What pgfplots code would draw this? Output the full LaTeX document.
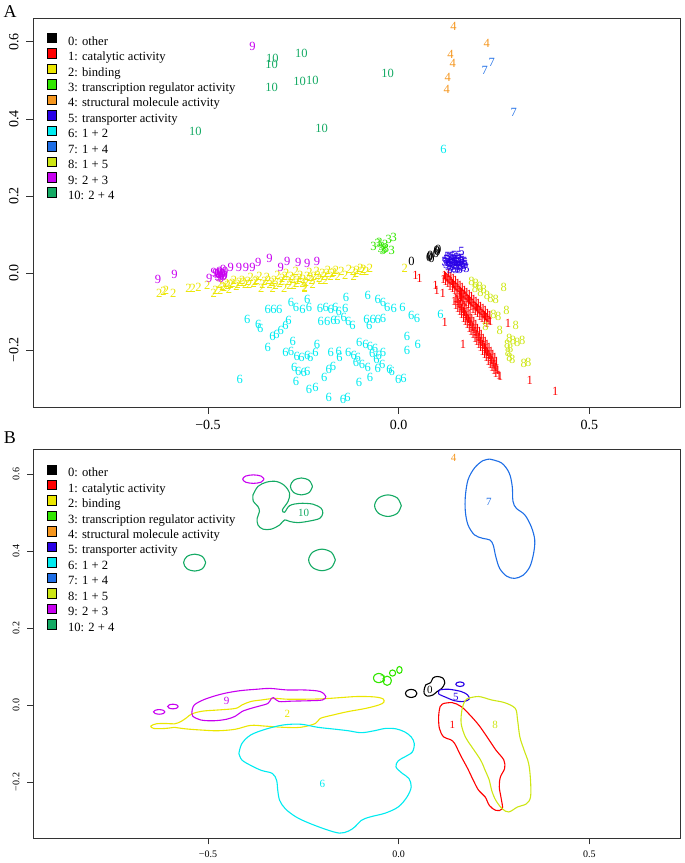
\documentclass[border=0pt]{standalone}
\usepackage{fontspec}
\setmainfont{Liberation Serif}
\usepackage{pgfplots}
\pgfplotsset{compat=1.18}
\definecolor{c0}{RGB}{0,0,0}
\definecolor{c1}{RGB}{255,0,0}
\definecolor{c2}{RGB}{235,230,0}
\definecolor{c3}{RGB}{50,230,0}
\definecolor{c4}{RGB}{245,150,30}
\definecolor{c5}{RGB}{40,0,230}
\definecolor{c6}{RGB}{0,235,240}
\definecolor{c7}{RGB}{30,110,230}
\definecolor{c8}{RGB}{205,230,20}
\definecolor{c9}{RGB}{200,0,240}
\definecolor{c10}{RGB}{20,170,100}
\pgfplotsset{
  tm/.style 2 args={only marks, mark=text, text mark={#1}, text mark as node=true, color=#2,
     text mark style={font=\fontsize{12.5}{12.5}\selectfont, inner sep=0pt, text=#2}, forget plot},
  tl/.style 2 args={only marks, mark=text, text mark={#1}, text mark as node=true, color=#2,
     text mark style={font=\fontsize{11}{11}\selectfont, inner sep=0pt, text=#2}, forget plot},
  cl/.style={smooth, tension=0.55, line width=1.1pt, mark=none, color=#1, forget plot},
  common/.style={scale only axis, width=647pt, height=389pt, xmin=-0.959, xmax=0.738,
     axis line style={line width=0.8pt, black!80}, tick style={line width=0.8pt, black!80},
     tick align=outside, tick pos=left, major tick length=7pt,
     xtick={-0.5,0,0.5}, xticklabels={−0.5,0.0,0.5},
     ytick={-0.2,0,0.2,0.4,0.6}, yticklabels={−0.2,0.0,0.2,0.4,0.6},
     yticklabel style={rotate=90, anchor=south},
     xticklabel shift=3pt, yticklabel shift=4pt,
     legend cell align=left,
     legend style={at={(0,1)}, anchor=north west, xshift=14pt, yshift=-15pt, draw=none, fill=none,
        inner sep=0pt, outer sep=0pt, font=\fontsize{12.6}{14}\selectfont, row sep=0.3pt,
        nodes={inner sep=0pt, text height=8.7pt, text depth=3pt},
        /tikz/every odd column/.style={column sep=11pt}}},
}
\newcommand\legsq[1]{\addlegendimage{legend image code/.code={\draw[fill=#1,draw=black,line width=0.6pt] (0pt,-0.5pt) rectangle (9.5pt,9pt);}}}
\newcommand\leglist{%
  \legsq{c0}\addlegendentry{0: other}
  \legsq{c1}\addlegendentry{1: catalytic activity}
  \legsq{c2}\addlegendentry{2: binding}
  \legsq{c3}\addlegendentry{3: transcription regulator activity}
  \legsq{c4}\addlegendentry{4: structural molecule activity}
  \legsq{c5}\addlegendentry{5: transporter activity}
  \legsq{c6}\addlegendentry{6: 1 + 2}
  \legsq{c7}\addlegendentry{7: 1 + 4}
  \legsq{c8}\addlegendentry{8: 1 + 5}
  \legsq{c9}\addlegendentry{9: 2 + 3}
  \legsq{c10}\addlegendentry{10: 2 + 4}}
\begin{document}
\begin{tikzpicture}
\path[use as bounding box] (0pt,0pt) rectangle (685pt,863pt);
\node at (10pt,851pt) {\fontsize{18}{18}\selectfont A};
\node at (10pt,425pt) {\fontsize{18}{18}\selectfont B};
% ---------------- Panel A ----------------
\begin{axis}[common, at={(33pt,456pt)}, anchor=south west, ymin=-0.348, ymax=0.662,
  ticklabel style={font=\fontsize{14}{14}\selectfont}]
\leglist
\addplot[tm={0}{c0}] coordinates {(0.034,0.031)(0.080,0.040)(0.083,0.045)(0.086,0.038)(0.100,0.058)(0.104,0.062)(0.102,0.055)(0.098,0.052)(0.082,0.042)};
\addplot[tm={1}{c1}] coordinates {
(0.120,-0.005)(0.126,-0.011)(0.132,-0.017)(0.138,-0.023)(0.144,-0.029)(0.150,-0.035)(0.156,-0.041)(0.162,-0.047)(0.168,-0.053)(0.174,-0.059)(0.180,-0.065)(0.186,-0.071)(0.192,-0.077)(0.198,-0.083)(0.204,-0.089)(0.210,-0.095)(0.216,-0.101)(0.222,-0.107)(0.228,-0.113)(0.234,-0.119)(0.240,-0.125)
(0.123,-0.008)(0.129,-0.014)(0.135,-0.020)(0.141,-0.026)(0.147,-0.032)(0.153,-0.038)(0.159,-0.044)(0.165,-0.050)(0.171,-0.056)(0.177,-0.062)(0.183,-0.068)(0.189,-0.074)(0.195,-0.080)(0.201,-0.086)(0.207,-0.092)(0.213,-0.098)(0.219,-0.104)(0.225,-0.110)(0.231,-0.116)(0.237,-0.122)
(0.131,-0.002)(0.137,-0.008)(0.143,-0.014)(0.149,-0.020)(0.155,-0.026)(0.161,-0.032)(0.167,-0.038)(0.173,-0.044)(0.179,-0.050)(0.185,-0.056)(0.191,-0.062)(0.197,-0.068)(0.203,-0.074)(0.209,-0.080)(0.215,-0.086)(0.221,-0.092)(0.227,-0.098)(0.233,-0.104)(0.239,-0.110)
(0.117,-0.016)(0.123,-0.022)(0.129,-0.028)(0.135,-0.034)(0.141,-0.040)(0.147,-0.046)(0.153,-0.052)(0.159,-0.058)(0.165,-0.064)(0.171,-0.070)(0.177,-0.076)(0.183,-0.082)(0.189,-0.088)(0.195,-0.094)(0.201,-0.100)(0.207,-0.106)(0.213,-0.112)(0.219,-0.118)(0.225,-0.124)(0.231,-0.130)
(0.150,-0.065)(0.155,-0.074)(0.160,-0.082)(0.165,-0.091)(0.170,-0.099)(0.175,-0.108)(0.180,-0.117)(0.185,-0.125)(0.190,-0.134)(0.195,-0.142)(0.200,-0.151)(0.205,-0.160)(0.210,-0.168)(0.215,-0.177)(0.220,-0.185)(0.225,-0.194)(0.230,-0.203)(0.235,-0.211)(0.240,-0.220)(0.245,-0.228)(0.250,-0.237)(0.255,-0.246)(0.260,-0.254)
(0.153,-0.069)(0.158,-0.078)(0.163,-0.086)(0.168,-0.095)(0.173,-0.103)(0.178,-0.112)(0.183,-0.121)(0.188,-0.129)(0.193,-0.138)(0.198,-0.146)(0.203,-0.155)(0.208,-0.164)(0.213,-0.172)(0.218,-0.181)(0.223,-0.189)(0.228,-0.198)(0.233,-0.207)(0.238,-0.215)(0.243,-0.224)(0.248,-0.232)(0.253,-0.241)(0.258,-0.250)
(0.162,-0.065)(0.167,-0.074)(0.172,-0.083)(0.177,-0.091)(0.182,-0.100)(0.187,-0.108)(0.192,-0.117)(0.197,-0.126)(0.202,-0.134)(0.207,-0.143)(0.212,-0.151)(0.217,-0.160)(0.222,-0.169)(0.227,-0.177)(0.232,-0.186)(0.237,-0.194)(0.242,-0.203)(0.247,-0.212)(0.252,-0.220)(0.257,-0.229)
(0.145,-0.074)(0.150,-0.083)(0.155,-0.091)(0.160,-0.100)(0.165,-0.108)(0.170,-0.117)(0.175,-0.126)(0.180,-0.134)(0.185,-0.143)(0.190,-0.151)(0.195,-0.160)(0.200,-0.169)(0.205,-0.177)(0.210,-0.186)(0.215,-0.194)(0.220,-0.203)(0.225,-0.212)(0.230,-0.220)(0.235,-0.229)(0.240,-0.237)(0.245,-0.246)(0.250,-0.254)
(0.266,-0.268)(0.255,-0.262)
(0.044,-0.005)(0.055,-0.014)(0.097,-0.031)(0.116,-0.053)(0.121,-0.127)(0.169,-0.185)(0.287,-0.131)(0.263,-0.266)(0.344,-0.279)(0.411,-0.307)(0.100,-0.045)};
\addplot[tm={2}{c2}] coordinates {
(-0.628,-0.053)(-0.617,-0.048)(-0.610,-0.044)(-0.591,-0.053)(-0.551,-0.039)(-0.540,-0.040)(-0.525,-0.037)(-0.502,-0.033)(-0.485,-0.053)(-0.480,-0.045)(-0.468,-0.046)(-0.470,-0.030)(-0.458,-0.038)(-0.452,-0.026)(-0.445,-0.043)(-0.440,-0.030)(-0.432,-0.020)(-0.425,-0.036)(-0.418,-0.025)(-0.410,-0.018)(-0.402,-0.030)(-0.395,-0.022)(-0.388,-0.012)(-0.380,-0.028)(-0.372,-0.018)(-0.365,-0.008)(-0.360,-0.040)(-0.352,-0.022)(-0.345,-0.012)(-0.338,-0.030)(-0.330,-0.040)(-0.326,-0.018)(-0.318,-0.005)(-0.312,-0.028)(-0.305,-0.015)(-0.300,-0.040)(-0.295,0.000)(-0.288,-0.022)(-0.282,-0.010)(-0.275,-0.032)(-0.270,0.005)(-0.265,-0.018)(-0.258,-0.005)(-0.252,-0.028)(-0.246,-0.040)(-0.240,-0.010)(-0.234,0.002)(-0.228,-0.020)(-0.222,-0.008)(-0.215,0.005)(-0.208,-0.015)(-0.200,-0.002)(-0.192,-0.020)(-0.185,0.008)(-0.178,-0.008)(-0.170,0.002)(-0.160,-0.010)(-0.150,0.005)(-0.140,-0.005)(-0.130,0.010)(-0.118,-0.008)(-0.109,0.006)(-0.100,0.012)(-0.092,0.010)(-0.085,0.003)(-0.075,0.013)(0.016,0.011)(-0.246,-0.037)
(-0.462,-0.035)(-0.448,-0.031)(-0.436,-0.027)(-0.422,-0.030)(-0.406,-0.024)(-0.392,-0.030)(-0.376,-0.022)(-0.357,-0.030)(-0.342,-0.020)(-0.333,-0.025)(-0.322,-0.033)(-0.308,-0.022)(-0.298,-0.010)(-0.286,-0.032)(-0.278,-0.017)(-0.268,-0.026)(-0.260,-0.014)(-0.250,-0.016)(-0.243,-0.024)(-0.231,-0.012)(-0.225,-0.030)(-0.212,-0.006)(-0.204,-0.020)(-0.196,-0.010)(-0.188,-0.002)(-0.174,0.000)(-0.164,0.006)(-0.120,0.004)(-0.112,0.000)(-0.096,0.004)};
\addplot[tm={3}{c3}] coordinates {(-0.066,0.069)(-0.055,0.076)(-0.047,0.065)(-0.035,0.074)(-0.026,0.086)(-0.018,0.058)(-0.013,0.093)(-0.041,0.058)(-0.033,0.065)(-0.050,0.080)(-0.044,0.070)(-0.038,0.062)};
\addplot[tm={4}{c4}] coordinates {(0.144,0.641)(0.231,0.596)(0.136,0.568)(0.142,0.545)(0.129,0.509)(0.126,0.477)};
\addplot[tm={5}{c5}] coordinates {(0.120,0.030)(0.125,0.022)(0.125,0.036)(0.130,0.028)(0.130,0.016)(0.132,0.040)(0.135,0.024)(0.138,0.033)(0.140,0.018)(0.140,0.042)(0.143,0.028)(0.145,0.012)(0.146,0.036)(0.148,0.022)(0.150,0.030)(0.152,0.040)(0.153,0.016)(0.155,0.026)(0.157,0.034)(0.160,0.020)(0.160,0.010)(0.162,0.030)(0.165,0.038)(0.167,0.024)(0.170,0.015)(0.172,0.030)(0.175,0.022)(0.178,0.012)(0.150,0.008)(0.135,0.010)(0.128,0.042)(0.165,0.055)(0.158,0.045)(0.145,0.046)
(0.122,0.026)(0.128,0.034)(0.133,0.020)(0.137,0.038)(0.142,0.024)(0.147,0.030)(0.151,0.020)(0.154,0.036)(0.158,0.026)(0.163,0.016)(0.166,0.032)(0.169,0.020)(0.174,0.026)(0.142,0.034)(0.156,0.012)(0.137,0.014)};
\addplot[tm={6}{c6}] coordinates {
(-0.417,-0.277)(-0.397,-0.120)(-0.368,-0.133)(-0.363,-0.144)(-0.343,-0.194)(-0.343,-0.094)(-0.328,-0.094)(-0.313,-0.094)(-0.331,-0.164)(-0.320,-0.159)(-0.309,-0.149)(-0.297,-0.135)(-0.289,-0.124)(-0.282,-0.077)(-0.269,-0.090)(-0.252,-0.094)(-0.240,-0.068)(-0.235,-0.090)(-0.297,-0.207)(-0.282,-0.203)(-0.278,-0.178)(-0.267,-0.216)(-0.255,-0.220)(-0.240,-0.213)(-0.232,-0.220)(-0.218,-0.207)(-0.214,-0.185)(-0.274,-0.246)(-0.263,-0.255)(-0.249,-0.259)(-0.240,-0.255)(-0.269,-0.281)(-0.235,-0.303)(-0.218,-0.298)(-0.195,-0.272)(-0.183,-0.251)(-0.172,-0.242)(-0.155,-0.220)(-0.206,-0.091)(-0.191,-0.090)(-0.178,-0.094)(-0.166,-0.090)(-0.157,-0.100)(-0.140,-0.091)(-0.138,-0.063)(-0.204,-0.126)(-0.187,-0.126)(-0.171,-0.124)(-0.161,-0.122)(-0.144,-0.116)(-0.132,-0.126)(-0.132,-0.207)(-0.118,-0.213)(-0.107,-0.220)(-0.112,-0.231)(-0.096,-0.238)(-0.081,-0.246)(-0.075,-0.272)(-0.104,-0.283)(-0.121,-0.137)(-0.103,-0.181)(-0.178,-0.207)(-0.157,-0.203)(-0.183,-0.324)(-0.146,-0.329)(-0.134,-0.324)(-0.081,-0.059)(-0.055,-0.068)(-0.041,-0.077)(-0.030,-0.090)(-0.013,-0.091)(0.010,-0.090)(0.033,-0.111)(0.048,-0.117)(-0.084,-0.120)(-0.068,-0.120)(-0.055,-0.120)(-0.041,-0.117)(-0.077,-0.135)(-0.087,-0.185)(-0.075,-0.192)(-0.062,-0.196)(-0.069,-0.210)(-0.052,-0.213)(-0.041,-0.207)(-0.058,-0.224)(-0.043,-0.237)(-0.055,-0.248)(-0.024,-0.251)(-0.018,-0.255)(-0.001,-0.277)(0.013,-0.274)(0.022,-0.166)(0.022,-0.201)(0.050,-0.185)(0.110,-0.107)(0.118,0.320)};
\addplot[tm={7}{c7}] coordinates {(0.226,0.526)(0.244,0.546)(0.302,0.417)};
\addplot[tm={8}{c8}] coordinates {(0.191,-0.023)(0.202,-0.027)(0.213,-0.034)(0.223,-0.043)(0.232,-0.057)(0.241,-0.066)(0.255,-0.068)(0.276,-0.037)(0.283,-0.096)(0.307,-0.135)(0.249,-0.107)(0.228,-0.140)(0.290,-0.170)(0.300,-0.174)(0.311,-0.179)(0.324,-0.174)(0.287,-0.205)(0.291,-0.218)(0.298,-0.225)(0.328,-0.235)(0.340,-0.231)(0.265,-0.149)(0.261,-0.113)(0.200,-0.040)(0.215,-0.050)(0.285,-0.185)(0.293,-0.195)};
\addplot[tm={9}{c9}] coordinates {(-0.631,-0.018)(-0.588,-0.004)(-0.497,-0.013)(-0.485,0.002)(-0.468,-0.004)(-0.475,-0.008)(-0.462,0.000)(-0.470,0.004)(-0.458,-0.010)(-0.480,0.000)(-0.465,-0.015)(-0.455,0.003)(-0.472,-0.012)(-0.460,0.008)(-0.466,-0.008)(-0.462,-0.004)(-0.470,-0.002)(-0.456,-0.006)(-0.476,-0.004)(-0.468,0.002)(-0.440,0.015)(-0.419,0.015)(-0.400,0.015)(-0.383,0.015)(-0.368,0.028)(-0.339,0.037)(-0.309,0.015)(-0.292,0.030)(-0.263,0.028)(-0.240,0.025)(-0.214,0.030)(-0.383,0.587)};
\addplot[tm={10}{c10}] coordinates {(-0.331,0.557)(-0.333,0.542)(-0.255,0.570)(-0.333,0.483)(-0.260,0.497)(-0.226,0.500)(-0.533,0.368)(-0.202,0.376)(-0.029,0.517)};
\end{axis}
% ---------------- Panel B ----------------
\begin{axis}[common, at={(33pt,24.5pt)}, anchor=south west, ymin=-0.347, ymax=0.664,
  ticklabel style={font=\fontsize{10}{10}\selectfont}, major tick length=6pt]
\leglist
% 0
\addplot[cl=c0] coordinates {(0.048,0.030)(0.0436,0.0374)(0.033,0.0405)(0.0224,0.0374)(0.018,0.030)(0.0224,0.0226)(0.033,0.0195)(0.0436,0.0226)(0.048,0.030)};
\addplot[cl=c0] coordinates {(0.067,0.039)(0.071,0.052)(0.084,0.058)(0.090,0.070)(0.101,0.074)(0.116,0.070)(0.121,0.057)(0.113,0.043)(0.101,0.035)(0.090,0.026)(0.075,0.023)(0.067,0.030)(0.067,0.039)};
% 1
\addplot[cl=c1] coordinates {(0.118,0.004)(0.141,0.006)(0.164,-0.004)(0.187,-0.026)(0.210,-0.052)(0.232,-0.083)(0.255,-0.117)(0.276,-0.143)(0.278,-0.165)(0.267,-0.187)(0.264,-0.213)(0.269,-0.243)(0.272,-0.270)(0.255,-0.274)(0.238,-0.261)(0.227,-0.239)(0.210,-0.222)(0.196,-0.196)(0.181,-0.165)(0.162,-0.130)(0.147,-0.100)(0.136,-0.090)(0.118,-0.083)(0.107,-0.061)(0.105,-0.030)(0.109,-0.004)(0.118,0.004)};
% 2
\addplot[cl=c2] coordinates {(-0.588,-0.058)(-0.559,-0.062)(-0.519,-0.065)(-0.474,-0.067)(-0.428,-0.063)(-0.388,-0.053)(-0.349,-0.055)(-0.303,-0.058)(-0.257,-0.058)(-0.218,-0.048)(-0.206,-0.035)(-0.172,-0.026)(-0.132,-0.017)(-0.087,-0.009)(-0.052,0.000)(-0.039,0.007)(-0.041,0.016)(-0.064,0.021)(-0.109,0.022)(-0.155,0.019)(-0.200,0.016)(-0.246,0.015)(-0.292,0.015)(-0.326,0.017)(-0.360,0.013)(-0.388,0.009)(-0.411,0.000)(-0.428,-0.009)(-0.474,-0.013)(-0.514,-0.016)(-0.542,-0.023)(-0.556,-0.033)(-0.571,-0.043)(-0.588,-0.049)(-0.610,-0.048)(-0.636,-0.049)(-0.650,-0.055)(-0.642,-0.061)(-0.613,-0.061)(-0.588,-0.058)};
% 3
\addplot[cl=c3] coordinates {(-0.038,0.070)(-0.0421,0.0785)(-0.052,0.082)(-0.0619,0.0785)(-0.066,0.070)(-0.0619,0.0615)(-0.052,0.058)(-0.0421,0.0615)(-0.038,0.070)};
\addplot[cl=c3] coordinates {(-0.019,0.063)(-0.0222,0.0715)(-0.030,0.075)(-0.0378,0.0715)(-0.041,0.063)(-0.0378,0.0545)(-0.030,0.051)(-0.0222,0.0545)(-0.019,0.063)};
\addplot[cl=c3] coordinates {(-0.008,0.083)(-0.0103,0.0887)(-0.016,0.091)(-0.0217,0.0887)(-0.024,0.083)(-0.0217,0.0773)(-0.016,0.075)(-0.0103,0.0773)(-0.008,0.083)};
\addplot[cl=c3] coordinates {(0.009,0.091)(0.007,0.0974)(0.002,0.100)(-0.003,0.0974)(-0.005,0.091)(-0.003,0.0846)(0.002,0.082)(0.007,0.0846)(0.009,0.091)};
% 5
\addplot[cl=c5] coordinates {(0.107,0.039)(0.130,0.041)(0.164,0.035)(0.181,0.026)(0.185,0.015)(0.170,0.009)(0.147,0.011)(0.124,0.020)(0.105,0.029)(0.107,0.039)};
\addplot[cl=c5] coordinates {(0.172,0.054)(0.1688,0.0582)(0.161,0.060)(0.1532,0.0582)(0.150,0.054)(0.1532,0.0498)(0.161,0.048)(0.1688,0.0498)(0.172,0.054)};
% 6
\addplot[cl=c6] coordinates {(-0.419,-0.126)(-0.411,-0.100)(-0.388,-0.078)(-0.349,-0.063)(-0.303,-0.052)(-0.257,-0.050)(-0.212,-0.058)(-0.166,-0.063)(-0.132,-0.067)(-0.098,-0.072)(-0.064,-0.067)(-0.035,-0.061)(-0.007,-0.062)(0.016,-0.070)(0.033,-0.083)(0.041,-0.100)(0.036,-0.122)(0.016,-0.135)(-0.001,-0.145)(-0.007,-0.161)(0.010,-0.178)(0.027,-0.191)(0.033,-0.213)(0.022,-0.239)(-0.001,-0.265)(-0.035,-0.281)(-0.075,-0.291)(-0.098,-0.300)(-0.115,-0.317)(-0.132,-0.328)(-0.155,-0.333)(-0.189,-0.324)(-0.235,-0.307)(-0.269,-0.291)(-0.297,-0.270)(-0.312,-0.248)(-0.317,-0.222)(-0.320,-0.196)(-0.331,-0.178)(-0.360,-0.170)(-0.388,-0.157)(-0.411,-0.143)(-0.419,-0.126)};
% 7
\addplot[cl=c7] coordinates {(0.239,0.639)(0.270,0.629)(0.290,0.603)(0.298,0.568)(0.300,0.529)(0.309,0.511)(0.331,0.494)(0.348,0.463)(0.357,0.429)(0.354,0.394)(0.344,0.359)(0.326,0.337)(0.304,0.329)(0.283,0.335)(0.265,0.355)(0.255,0.385)(0.248,0.416)(0.239,0.429)(0.221,0.433)(0.199,0.442)(0.182,0.468)(0.175,0.503)(0.175,0.542)(0.182,0.585)(0.199,0.616)(0.221,0.635)(0.239,0.639)};
% 8
\addplot[cl=c8] coordinates {(0.181,0.017)(0.210,0.022)(0.244,0.013)(0.278,0.006)(0.306,-0.009)(0.312,-0.039)(0.318,-0.083)(0.329,-0.117)(0.341,-0.152)(0.346,-0.196)(0.346,-0.239)(0.335,-0.257)(0.312,-0.265)(0.289,-0.278)(0.272,-0.270)(0.255,-0.248)(0.244,-0.222)(0.238,-0.196)(0.227,-0.170)(0.215,-0.143)(0.192,-0.109)(0.175,-0.083)(0.164,-0.048)(0.166,-0.013)(0.173,0.009)(0.181,0.017)};
% 9
\addplot[cl=c9] coordinates {(-0.542,-0.017)(-0.536,0.000)(-0.508,0.015)(-0.462,0.029)(-0.417,0.037)(-0.371,0.041)(-0.337,0.043)(-0.292,0.039)(-0.246,0.039)(-0.206,0.035)(-0.191,0.022)(-0.200,0.013)(-0.235,0.011)(-0.280,0.010)(-0.314,0.009)(-0.328,0.019)(-0.335,0.015)(-0.343,0.004)(-0.366,-0.003)(-0.388,-0.009)(-0.411,-0.017)(-0.428,-0.029)(-0.451,-0.037)(-0.485,-0.041)(-0.519,-0.039)(-0.540,-0.029)(-0.542,-0.017)};
\addplot[cl=c9] coordinates {(-0.613,-0.018)(-0.6174,-0.0138)(-0.628,-0.012)(-0.6386,-0.0138)(-0.643,-0.018)(-0.6386,-0.0222)(-0.628,-0.024)(-0.6174,-0.0222)(-0.613,-0.018)};
\addplot[cl=c9] coordinates {(-0.578,-0.004)(-0.5821,0.0002)(-0.592,0.002)(-0.6019,0.0002)(-0.606,-0.004)(-0.6019,-0.0082)(-0.592,-0.010)(-0.5821,-0.0082)(-0.578,-0.004)};
\addplot[cl=c9] coordinates {(-0.353,0.587)(-0.361,0.595)(-0.381,0.598)(-0.401,0.595)(-0.409,0.587)(-0.401,0.579)(-0.381,0.576)(-0.361,0.579)(-0.353,0.587)};
% 10
\addplot[cl=c10] coordinates {(-0.382,0.546)(-0.369,0.568)(-0.347,0.579)(-0.321,0.581)(-0.299,0.570)(-0.286,0.550)(-0.290,0.529)(-0.305,0.507)(-0.299,0.501)(-0.286,0.518)(-0.260,0.524)(-0.225,0.522)(-0.203,0.511)(-0.199,0.498)(-0.207,0.485)(-0.234,0.478)(-0.264,0.474)(-0.286,0.477)(-0.299,0.481)(-0.312,0.468)(-0.334,0.457)(-0.356,0.457)(-0.369,0.468)(-0.371,0.485)(-0.365,0.503)(-0.369,0.516)(-0.381,0.529)(-0.382,0.546)};
\addplot[cl=c10] coordinates {(-0.226,0.568)(-0.2345,0.5836)(-0.255,0.590)(-0.2755,0.5836)(-0.284,0.568)(-0.2755,0.5524)(-0.255,0.546)(-0.2345,0.5524)(-0.226,0.568)};
\addplot[cl=c10] coordinates {(-0.506,0.370)(-0.5145,0.3856)(-0.535,0.392)(-0.5555,0.3856)(-0.564,0.370)(-0.5555,0.3544)(-0.535,0.348)(-0.5145,0.3544)(-0.506,0.370)};
\addplot[cl=c10] coordinates {(-0.166,0.377)(-0.1763,0.3968)(-0.201,0.405)(-0.2257,0.3968)(-0.236,0.377)(-0.2257,0.3572)(-0.201,0.349)(-0.1763,0.3572)(-0.166,0.377)};
\addplot[cl=c10] coordinates {(0.007,0.518)(-0.0033,0.5378)(-0.028,0.546)(-0.0527,0.5378)(-0.063,0.518)(-0.0527,0.4982)(-0.028,0.490)(-0.0033,0.4982)(0.007,0.518)};
% labels
\addplot[tl={0}{c0}] coordinates {(0.082,0.039)};
\addplot[tl={1}{c1}] coordinates {(0.141,-0.052)};
\addplot[tl={2}{c2}] coordinates {(-0.292,-0.023)};
\addplot[tl={3}{c3}] coordinates {(-0.041,0.067)};
\addplot[tl={4}{c4}] coordinates {(0.144,0.642)};
\addplot[tl={5}{c5}] coordinates {(0.150,0.022)};
\addplot[tl={6}{c6}] coordinates {(-0.200,-0.204)};
\addplot[tl={7}{c7}] coordinates {(0.237,0.529)};
\addplot[tl={8}{c8}] coordinates {(0.253,-0.052)};
\addplot[tl={9}{c9}] coordinates {(-0.451,0.010)};
\addplot[tl={10}{c10}] coordinates {(-0.249,0.500)};
\end{axis}
\end{tikzpicture}
\end{document}
